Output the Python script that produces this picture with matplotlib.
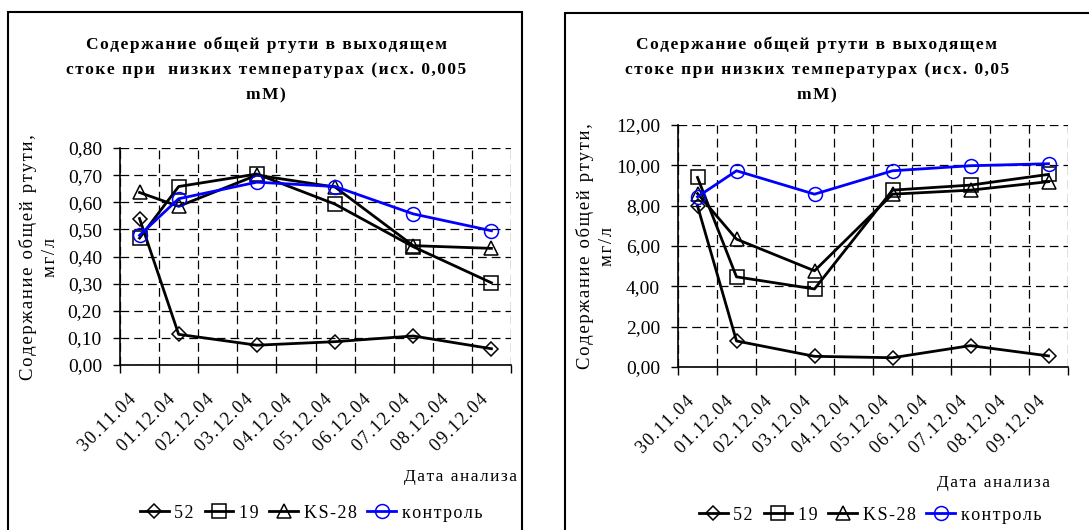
import matplotlib
matplotlib.use("Agg")
import matplotlib.pyplot as plt
from matplotlib.patches import Rectangle
from matplotlib.lines import Line2D

plt.rcParams['font.family'] = ['Liberation Serif', 'DejaVu Serif']

# dates shown on the category axis; measurements were taken on every other day
dates = ["30.11.04", "01.12.04", "02.12.04", "03.12.04", "04.12.04",
         "05.12.04", "06.12.04", "07.12.04", "08.12.04", "09.12.04"]
sample_days = [0, 1, 3, 5, 7, 9]

series_names = ["52", "19", "KS-28", "контроль"]

# 0,005 mM
low_52 = [0.54, 0.113, 0.073, 0.086, 0.107, 0.06]
low_19 = [0.468, 0.658, 0.704, 0.593, 0.436, 0.303]
low_ks28 = [0.636, 0.585, 0.70, 0.656, 0.44, 0.43]
low_ctrl = [0.478, 0.613, 0.674, 0.658, 0.557, 0.495]

# 0,05 mM
high_52 = [7.99, 1.29, 0.53, 0.46, 1.06, 0.55]
high_19 = [9.40, 4.47, 3.87, 8.77, 9.02, 9.55]
high_ks28 = [8.60, 6.34, 4.77, 8.57, 8.77, 9.19]
high_ctrl = [8.44, 9.73, 8.57, 9.73, 9.98, 10.08]

title_low = "Содержание общей ртути в выходящем\nстоке при  низких температурах (исх. 0,005\nmM)"
title_high = "Содержание общей ртути в выходящем\nстоке при низких температурах (исх. 0,05\nmM)"
y_title = "Содержание общей ртути,\nмг/л"
x_title = "Дата анализа"

styles = [
    dict(color="black", marker="D", markersize=7.5),
    dict(color="black", marker="s", markersize=9.5),
    dict(color="black", marker="^", markersize=10),
    dict(color="#0000ff", marker="o", markersize=10),
]


def spread(text):
    # Excel-like loose letter spacing
    return "\n".join("\u200a".join(line) for line in text.split("\n"))


def draw_panel(fig, rect, values, ymax, ystep):
    ax = fig.add_axes(rect)
    for vals, st in zip(values, styles):
        ax.plot(sample_days, vals, linewidth=2, markerfacecolor="none",
                markeredgewidth=1.1, **st)
    ax.set_xlim(-0.5, 9.5)
    ax.set_ylim(0, ymax)
    yt = [i * ystep for i in range(int(round(ymax / ystep)) + 1)]
    ax.set_yticks(yt)
    ax.set_yticklabels([f"{v:.2f}".replace(".", ",") for v in yt])
    ax.set_xticks([i - 0.5 for i in range(11)])
    ax.set_xticklabels([])
    ax.set_xticks(range(10), minor=True)
    ax.set_xticklabels([spread(d) for d in dates], minor=True, rotation=45,
                       ha="right", va="top")
    ax.tick_params(axis="x", which="major", length=6, width=1, direction="out")
    ax.tick_params(axis="x", which="minor", length=0, pad=19, labelsize=13)
    ax.tick_params(axis="y", length=5, width=1, direction="out", pad=8, labelsize=14)
    ax.grid(True, which="major", color="black", linestyle=(0, (7, 4)), linewidth=0.9)
    ax.set_axisbelow(True)
    for side in ("top", "right"):
        ax.spines[side].set_visible(False)
    for side in ("left", "bottom"):
        ax.spines[side].set_linewidth(1.2)
    return ax


fig = plt.figure(figsize=(10.89, 5.30), dpi=100)
W, H = 1089, 530


def fx(px):
    return px / W


def fy(py):
    return 1 - py / H


# chart frames
fig.patches.append(Rectangle((fx(8), fy(532)), fx(514), fy(12) - fy(532),
                             transform=fig.transFigure, fill=False,
                             edgecolor="black", linewidth=1.5))
fig.patches.append(Rectangle((fx(565), fy(532)), fx(530), fy(13) - fy(532),
                             transform=fig.transFigure, fill=False,
                             edgecolor="black", linewidth=1.5))

draw_panel(fig, [fx(120), fy(365), fx(391), fy(148) - fy(365)],
           [low_52, low_19, low_ks28, low_ctrl], 0.8, 0.1)
draw_panel(fig, [fx(678), fy(367), fx(390), fy(125) - fy(367)],
           [high_52, high_19, high_ks28, high_ctrl], 12, 2)

fig.text(fx(266), fy(70), spread(title_low), ha="center", va="center",
         fontsize=12.5, fontweight="bold", linespacing=1.75)
fig.text(fx(817), fy(70), spread(title_high), ha="center", va="center",
         fontsize=12.5, fontweight="bold", linespacing=1.75)

fig.text(fx(39), fy(257), spread(y_title), rotation=90, ha="center", va="center",
         multialignment="center", fontsize=13.5, linespacing=1.45)
fig.text(fx(596), fy(246), spread(y_title), rotation=90, ha="center", va="center",
         multialignment="center", fontsize=13.5, linespacing=1.45)

fig.text(fx(517), fy(477), spread(x_title), ha="right", va="center", fontsize=12.5)
fig.text(fx(1050), fy(483), spread(x_title), ha="right", va="center", fontsize=12.5)

handles = [Line2D([], [], linewidth=2, markerfacecolor="none",
                  markeredgewidth=1.1, **st) for st in styles]
for cx, cy in ((fx(311), fy(513)), (fx(870), fy(515))):
    fig.legend(handles, [spread(s) for s in series_names], loc="center",
               bbox_to_anchor=(cx, cy), ncol=4, frameon=False, fontsize=13,
               handlelength=1.6, handletextpad=0.3, columnspacing=0.6,
               borderaxespad=0)

fig.savefig("out.png", dpi=100)
